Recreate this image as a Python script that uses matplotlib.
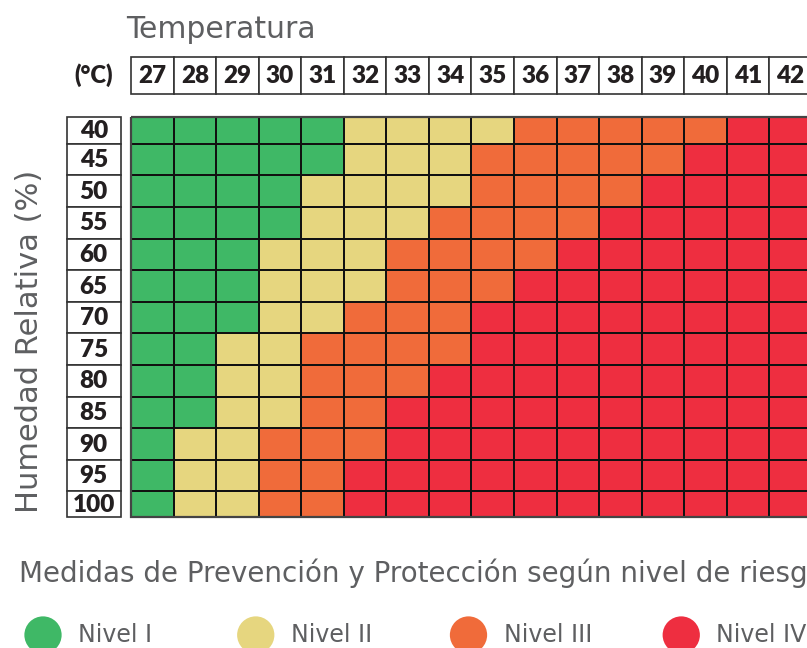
import numpy as np
import matplotlib
matplotlib.use("Agg")
import matplotlib.pyplot as plt
from matplotlib.colors import ListedColormap
from matplotlib.patches import Rectangle

# data
temps = [27, 28, 29, 30, 31, 32, 33, 34, 35, 36, 37, 38, 39, 40, 41, 42]
humidity = [40, 45, 50, 55, 60, 65, 70, 75, 80, 85, 90, 95, 100]
# risk level per cell (1 = Nivel I ... 4 = Nivel IV), rows follow humidity
levels = [
    [1, 1, 1, 1, 1, 2, 2, 2, 2, 3, 3, 3, 3, 3, 4, 4],
    [1, 1, 1, 1, 1, 2, 2, 2, 3, 3, 3, 3, 3, 4, 4, 4],
    [1, 1, 1, 1, 2, 2, 2, 2, 3, 3, 3, 3, 4, 4, 4, 4],
    [1, 1, 1, 1, 2, 2, 2, 3, 3, 3, 3, 4, 4, 4, 4, 4],
    [1, 1, 1, 2, 2, 2, 3, 3, 3, 3, 4, 4, 4, 4, 4, 4],
    [1, 1, 1, 2, 2, 2, 3, 3, 3, 4, 4, 4, 4, 4, 4, 4],
    [1, 1, 1, 2, 2, 3, 3, 3, 4, 4, 4, 4, 4, 4, 4, 4],
    [1, 1, 2, 2, 3, 3, 3, 3, 4, 4, 4, 4, 4, 4, 4, 4],
    [1, 1, 2, 2, 3, 3, 3, 4, 4, 4, 4, 4, 4, 4, 4, 4],
    [1, 1, 2, 2, 3, 3, 4, 4, 4, 4, 4, 4, 4, 4, 4, 4],
    [1, 2, 2, 3, 3, 3, 4, 4, 4, 4, 4, 4, 4, 4, 4, 4],
    [1, 2, 2, 3, 3, 4, 4, 4, 4, 4, 4, 4, 4, 4, 4, 4],
    [1, 2, 2, 3, 3, 4, 4, 4, 4, 4, 4, 4, 4, 4, 4, 4],
]
level_names = ["Nivel I", "Nivel II", "Nivel III", "Nivel IV"]
level_colors = ["#3fb866", "#e6d67f", "#f06b3a", "#ee2e40"]

# layout (pixels of the 807x648 picture)
W, H = 807, 648
X0, CW = 131.0, 42.55   # grid left edge, column width
Y0, RH = 117.0, 31.6    # grid top edge, row height
row_h = [0.85] + [1.0] * 11 + [0.8]
gray = "#5e5f61"
ink = "#231f20"

def px2x(p):
    return (p - X0) / CW

def px2y(p):
    return (p - Y0) / RH

fig = plt.figure(figsize=(W / 100, H / 100), dpi=100)
ax = fig.add_axes([0, 0, 1, 1])
ax.set_xlim(px2x(0), px2x(W))
ax.set_ylim(px2y(H), px2y(0))
ax.axis("off")

x_edges = np.arange(len(temps) + 1)
y_edges = np.concatenate([[0], np.cumsum(row_h)])
cmap = ListedColormap(level_colors)
ax.pcolormesh(x_edges, y_edges, np.array(levels), cmap=cmap, vmin=0.5, vmax=4.5,
              edgecolors="#111111", linewidth=1.1)
ax.add_patch(Rectangle((0, 0), len(temps), y_edges[-1], fill=False,
                       edgecolor="#444444", lw=1.6))

# header row with temperatures
hy0, hy1 = px2y(57), px2y(94)
for j, t in enumerate(temps):
    ax.add_patch(Rectangle((j, hy0), 1, hy1 - hy0, facecolor="white",
                           edgecolor="#333333", lw=1.2))
    ax.text(j + 0.5, (hy0 + hy1) / 2 + 0.02, str(t), ha="center", va="center",
            fontsize=17.5, fontweight="heavy", family="Lato", color=ink)
ax.text(px2x(94), (hy0 + hy1) / 2, "(°C)", ha="center", va="center",
        fontsize=17, fontweight="heavy", family="Lato", color=ink)

# humidity labels
lx0, lx1 = px2x(67), px2x(120.5)
for i, h in enumerate(humidity):
    ax.add_patch(Rectangle((lx0, y_edges[i]), lx1 - lx0, row_h[i],
                           facecolor="white", edgecolor="#333333", lw=1.2))
    ax.text((lx0 + lx1) / 2, (y_edges[i] + y_edges[i + 1]) / 2 + 0.02, str(h),
            ha="center", va="center", fontsize=17.5, fontweight="heavy",
            family="Lato", color=ink)

fig.text(126 / W, 1 - 30 / H, "Temperatura", ha="left", va="center",
         fontsize=21.5, color=gray)
fig.text(30 / W, 1 - 341 / H, "Humedad Relativa (%)", ha="center",
         va="center", rotation=90, fontsize=22, color=gray)
fig.text(19 / W, 1 - 573 / H,
         "Medidas de Prevención y Protección según nivel de riesgo",
         ha="left", va="center", fontsize=20, color=gray)

# legend
ly = px2y(635)
for k, (name, c) in enumerate(zip(level_names, level_colors)):
    cx = px2x(43) + 5 * k
    ax.scatter([cx], [ly], s=720, color=c, edgecolors="none", zorder=3)
    ax.text(cx + 35 / CW, ly, name, ha="left", va="center",
            fontsize=17, color=gray)

fig.savefig("out.png", dpi=100)
